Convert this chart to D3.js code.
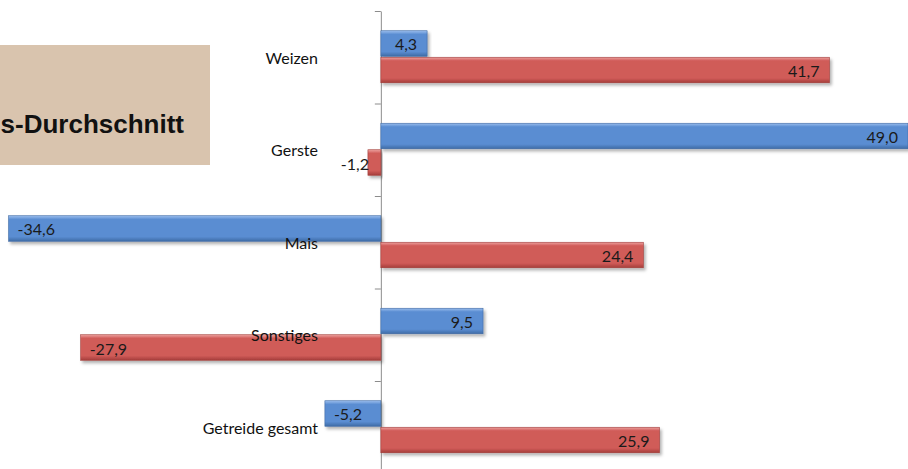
<!DOCTYPE html>
<html><head><meta charset="utf-8">
<script src="https://cdn.jsdelivr.net/npm/d3@7"></script>
<style>html,body{margin:0;padding:0;background:#fff;overflow:hidden}</style>
</head><body>
<svg id="c" width="908" height="469"></svg>
<script>
const categories = ["Weizen","Gerste","Mais","Sonstiges","Getreide gesamt"];
const seriesNames = ["Serie 1","Serie 2"];
const series1 = [4.3, 49.0, -34.6, 9.5, -5.2];
const series2 = [41.7, -1.2, 24.4, -27.9, 25.9];
const titleText = "s-Durchschnitt";

const svg = d3.select("#c");
const defs = svg.append("defs");
const palettes = [
  {id:"gBlue", top:"#9cbfee", main:"#5a8dd2", bot:"#3f6ca6", stroke:"#3d69a3"},
  {id:"gRed",  top:"#eea3a1", main:"#d05b58", bot:"#a53e3b", stroke:"#a13c39"}
];
palettes.forEach(p=>{
  const g = defs.append("linearGradient").attr("id",p.id).attr("x1",0).attr("y1",0).attr("x2",0).attr("y2",1);
  g.append("stop").attr("offset","0%").attr("stop-color",p.top);
  g.append("stop").attr("offset","14%").attr("stop-color",p.main);
  g.append("stop").attr("offset","82%").attr("stop-color",p.main);
  g.append("stop").attr("offset","100%").attr("stop-color",p.bot);
});
const f = defs.append("filter").attr("id","sh").attr("x","-5%").attr("y","-20%").attr("width","115%").attr("height","160%");
f.append("feDropShadow").attr("dx",2).attr("dy",2.5).attr("stdDeviation",1.5).attr("flood-color","#000").attr("flood-opacity",0.3);

// title box
svg.append("rect").attr("x",0).attr("y",45).attr("width",210).attr("height",120).attr("fill","#d9c4ae");
svg.append("text").attr("x",184).attr("y",133).attr("text-anchor","end")
  .attr("font-family","Liberation Sans, Arial, sans-serif").attr("font-weight","bold").attr("font-size",26)
  .attr("fill","#111").text(titleText);

const x = d3.scaleLinear().domain([-35.4, 49]).range([0, 908]);
const y = d3.scaleBand().domain(categories).range([11, 473.5]).paddingInner(0.427).paddingOuter(0.2135);
const ys = d3.scaleBand().domain([0,1]).range([0, y.bandwidth()]);
const yi = d3.scaleLinear().domain([0, categories.length]).range([11, 473.5]);

// axis
const ax = svg.append("g").attr("transform",`translate(${x(0)},0)`)
  .call(d3.axisLeft(yi).tickValues(d3.range(0, categories.length+1)).tickSize(6).tickSizeOuter(0).tickFormat(""));
ax.selectAll("path,line").attr("stroke","#8c8c8c");

const data = [];
categories.forEach((c,i)=>{
  data.push({c, s:0, v:series1[i]});
  data.push({c, s:1, v:series2[i]});
});

svg.append("g").selectAll("rect").data(data).join("rect")
  .attr("x", d=>Math.min(x(0), x(d.v)))
  .attr("y", d=>y(d.c)+ys(d.s))
  .attr("width", d=>Math.abs(x(d.v)-x(0)))
  .attr("height", ys.bandwidth()-1)
  .attr("fill", d=>`url(#${palettes[d.s].id})`)
  .attr("stroke", d=>palettes[d.s].stroke).attr("stroke-width",0.6)
  .attr("filter","url(#sh)");

const fmt = v => d3.format(".1f")(v).replace(".",",").replace("−","-");
const font = "Lato, 'Open Sans', sans-serif";

// value labels
svg.append("g").selectAll("text").data(data).join("text")
  .attr("font-family", font).attr("font-size",16).attr("fill","#1a1a1a")
  .attr("dominant-baseline","central")
  .attr("y", d=>y(d.c)+ys(d.s)+ys.bandwidth()/2)
  .attr("x", d=>{
    const w = Math.abs(x(d.v)-x(0));
    if (w < 30) return d.v<0 ? x(d.v)+1 : x(d.v)+2;
    return d.v>=0 ? x(d.v)-10 : x(d.v)+9;
  })
  .attr("text-anchor", d=>{
    const w = Math.abs(x(d.v)-x(0));
    if (w < 30) return d.v<0 ? "end" : "start";
    return d.v>=0 ? "end" : "start";
  })
  .text(d=>fmt(d.v));

// category labels
svg.append("g").selectAll("text").data(categories).join("text")
  .attr("font-family", font).attr("font-size",16).attr("fill","#111")
  .attr("x", 318).attr("y", d=>y(d)+y.bandwidth()/2)
  .attr("text-anchor","end").attr("dominant-baseline","central")
  .text(d=>d);
</script>
</body></html>
